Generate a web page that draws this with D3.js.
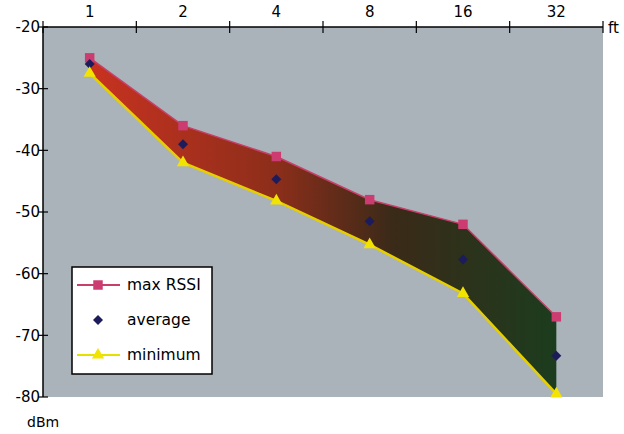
<!DOCTYPE html>
<html>
<head>
<meta charset="utf-8">
<script src="https://cdn.jsdelivr.net/npm/d3@7"></script>
<style>
  body { margin: 0; background: #fff; }
  text { font-family: "DejaVu Sans", Verdana, sans-serif; }
</style>
</head>
<body>
<svg id="chart" width="624" height="434"></svg>
<script>
const distances = ["1", "2", "4", "8", "16", "32"];
const maxRssi = [-25, -36, -41, -48, -52, -67];
const average = [-26, -39, -44.7, -51.5, -57.7, -73.3];
const minimum = [-27.5, -42, -48.2, -55.3, -63.2, -79.5];
const yTicks = [-20, -30, -40, -50, -60, -70, -80];

const width = 624, height = 434;
const margin = { top: 27, right: 21, bottom: 37, left: 43 };

const svg = d3.select("#chart");

const x = d3.scaleBand()
    .domain(distances)
    .range([margin.left, width - margin.right]);

const y = d3.scaleLinear()
    .domain([-80, -20])
    .range([height - margin.bottom, margin.top]);

const cx = d => x(d) + x.bandwidth() / 2;

// plot background
svg.append("rect")
    .attr("x", margin.left)
    .attr("y", margin.top)
    .attr("width", width - margin.left - margin.right)
    .attr("height", height - margin.top - margin.bottom)
    .attr("fill", "#abb3ba");

const rows = distances.map((d, i) => ({ d, max: maxRssi[i], avg: average[i], min: minimum[i] }));

// gradient fill between max and min
const grad = svg.append("defs").append("linearGradient")
    .attr("id", "band")
    .attr("gradientUnits", "userSpaceOnUse")
    .attr("x1", cx("1")).attr("x2", cx("32"))
    .attr("y1", 0).attr("y2", 0);
grad.append("stop").attr("offset", "0%").attr("stop-color", "#c83220");
grad.append("stop").attr("offset", "40%").attr("stop-color", "#8c2e1a");
grad.append("stop").attr("offset", "65%").attr("stop-color", "#3a2a18");
grad.append("stop").attr("offset", "100%").attr("stop-color", "#1c3c1e");

const area = d3.area()
    .x(d => cx(d.d))
    .y0(d => y(d.min))
    .y1(d => y(d.max));

svg.append("path")
    .datum(rows)
    .attr("d", area)
    .attr("fill", "url(#band)");

const line = key => d3.line().x(d => cx(d.d)).y(d => y(d[key]));

svg.append("path").datum(rows)
    .attr("d", line("min"))
    .attr("fill", "none")
    .attr("stroke", "#e6cf00")
    .attr("stroke-width", 2.5);

svg.append("path").datum(rows)
    .attr("d", line("max"))
    .attr("fill", "none")
    .attr("stroke", "#c8406a")
    .attr("stroke-width", 1.5);

// markers
const sq = d3.symbol().type(d3.symbolSquare).size(90)();
const dia = d3.symbol().type(d3.symbolSquare).size(50)();
const tri = d3.symbol().type(d3.symbolTriangle).size(65)();

svg.append("g").selectAll("path").data(rows).join("path")
    .attr("transform", d => `translate(${cx(d.d)},${y(d.max)})`)
    .attr("d", sq).attr("fill", "#cc3c70");
svg.append("g").selectAll("path").data(rows).join("path")
    .attr("transform", d => `translate(${cx(d.d)},${y(d.avg)}) rotate(45)`)
    .attr("d", dia).attr("fill", "#1c1c5c");
svg.append("g").selectAll("path").data(rows).join("path")
    .attr("transform", d => `translate(${cx(d.d)},${y(d.min)})`)
    .attr("d", tri).attr("fill", "#f2e400");

// top axis: ticks at band edges, labels at centres
const xTop = svg.append("g").attr("transform", `translate(0,${margin.top})`);
xTop.append("line")
    .attr("x1", margin.left).attr("x2", width - margin.right)
    .attr("stroke", "#000").attr("stroke-width", 1.5);
xTop.selectAll(".tk")
    .data(distances.map(d => x(d) + x.bandwidth()).concat([margin.left]))
    .join("line")
    .attr("x1", d => d).attr("x2", d => d)
    .attr("y1", -6).attr("y2", 6)
    .attr("stroke", "#000").attr("stroke-width", 1.2);
xTop.selectAll("text").data(distances).join("text")
    .attr("x", cx).attr("y", -10)
    .attr("text-anchor", "middle")
    .attr("font-size", 15)
    .text(d => d);
xTop.append("text")
    .attr("x", width - margin.right + 5).attr("y", 6)
    .attr("font-size", 15)
    .text("ft");

// left axis
const yAxis = svg.append("g").attr("transform", `translate(${margin.left},0)`);
yAxis.append("line")
    .attr("y1", margin.top).attr("y2", height - margin.bottom)
    .attr("stroke", "#000").attr("stroke-width", 1.5);
yAxis.selectAll(".tk").data(yTicks).join("line")
    .attr("x1", -5).attr("x2", 5)
    .attr("y1", y).attr("y2", y)
    .attr("stroke", "#000").attr("stroke-width", 1.2);
yAxis.selectAll("text").data(yTicks).join("text")
    .attr("x", -3).attr("y", y).attr("dy", "0.35em")
    .attr("text-anchor", "end")
    .attr("font-size", 15)
    .text(d => d);
svg.append("text")
    .attr("x", 27).attr("y", 427)
    .attr("font-size", 14)
    .text("dBm");

// legend
const legend = svg.append("g").attr("transform", "translate(72,267)");
legend.append("rect")
    .attr("width", 140).attr("height", 107)
    .attr("fill", "#fff").attr("stroke", "#000").attr("stroke-width", 1.5);
const items = [
    { label: "max RSSI", color: "#cc3c70", line: "#c8406a", sym: sq, rot: 0 },
    { label: "average", color: "#1c1c5c", line: null, sym: dia, rot: 45 },
    { label: "minimum", color: "#f2e400", line: "#e6e000", sym: tri, rot: 0 }
];
const li = legend.selectAll(".item").data(items).join("g")
    .attr("transform", (d, i) => `translate(0,${18 + i * 35})`);
li.filter(d => d.line).append("line")
    .attr("x1", 5).attr("x2", 48)
    .attr("stroke", d => d.line).attr("stroke-width", 2);
li.append("path")
    .attr("transform", d => `translate(26,0) rotate(${d.rot})`)
    .attr("d", d => d.sym)
    .attr("fill", d => d.color);
li.append("text")
    .attr("x", 55).attr("dy", "0.35em")
    .attr("font-size", 15.5)
    .text(d => d.label);
</script>
</body>
</html>
